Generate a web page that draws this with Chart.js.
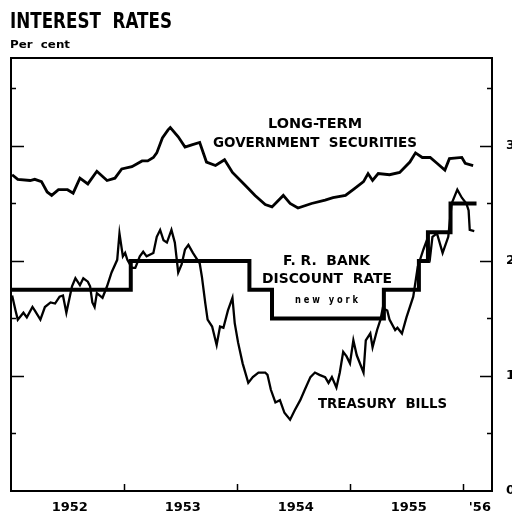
<!DOCTYPE html>
<html>
<head>
<meta charset="utf-8">
<script src="https://cdn.jsdelivr.net/npm/chart.js@4.4.1/dist/chart.umd.min.js"></script>
<style>
  html, body { margin: 0; padding: 0; background: #fff; }
  #wrap { width: 512px; height: 515px; }
</style>
</head>
<body>
<div id="wrap"><canvas id="rates" width="512" height="515"></canvas></div>
<script>
// --- data (decimal years, per cent) ---
const longTermDates = [1952.01, 1952.06, 1952.17, 1952.21, 1952.27, 1952.32, 1952.36, 1952.42, 1952.50, 1952.55,
  1952.61, 1952.68, 1952.76, 1952.85, 1952.92, 1952.98, 1953.07, 1953.16, 1953.21, 1953.26,
  1953.29, 1953.34, 1953.39, 1953.41, 1953.48, 1953.54, 1953.60, 1953.67, 1953.73, 1953.81,
  1953.89, 1953.96, 1954.07, 1954.16, 1954.25, 1954.31, 1954.41, 1954.47, 1954.54, 1954.66,
  1954.78, 1954.85, 1954.96, 1955.04, 1955.12, 1955.16, 1955.20, 1955.25, 1955.35, 1955.44,
  1955.53, 1955.58, 1955.64, 1955.71, 1955.77, 1955.84, 1955.88, 1955.99, 1956.02, 1956.09];
const longTermRates = [2.75, 2.71, 2.70, 2.71, 2.69, 2.60, 2.57, 2.62, 2.62, 2.59,
  2.72, 2.67, 2.78, 2.70, 2.72, 2.80, 2.82, 2.87, 2.87, 2.90,
  2.94, 3.07, 3.14, 3.16, 3.08, 2.99, 3.01, 3.03, 2.86, 2.83,
  2.88, 2.77, 2.66, 2.57, 2.49, 2.47, 2.57, 2.50, 2.46, 2.50,
  2.53, 2.55, 2.57, 2.63, 2.69, 2.76, 2.70, 2.76, 2.75, 2.77,
  2.86, 2.94, 2.90, 2.90, 2.85, 2.79, 2.89, 2.90, 2.85, 2.83];

const billDates = [1952.01, 1952.04, 1952.06, 1952.11, 1952.14, 1952.19, 1952.21, 1952.26, 1952.30, 1952.35,
  1952.39, 1952.43, 1952.46, 1952.49, 1952.54, 1952.57, 1952.61, 1952.64, 1952.68, 1952.70,
  1952.72, 1952.74, 1952.76, 1952.81, 1952.85, 1952.89, 1952.94, 1952.96, 1952.99, 1953.01,
  1953.03, 1953.07, 1953.10, 1953.14, 1953.17, 1953.20, 1953.26, 1953.29, 1953.32, 1953.35,
  1953.38, 1953.42, 1953.45, 1953.48, 1953.51, 1953.54, 1953.57, 1953.61, 1953.65, 1953.67,
  1953.69, 1953.72, 1953.74, 1953.78, 1953.82, 1953.85, 1953.88, 1953.92, 1953.96, 1953.98,
  1954.01, 1954.05, 1954.10, 1954.14, 1954.19, 1954.25, 1954.27, 1954.30, 1954.34, 1954.38,
  1954.42, 1954.47, 1954.51, 1954.56, 1954.60, 1954.65, 1954.69, 1954.73, 1954.78, 1954.81,
  1954.84, 1954.88, 1954.91, 1954.94, 1954.97, 1955.00, 1955.03, 1955.06, 1955.12, 1955.14,
  1955.18, 1955.20, 1955.24, 1955.27, 1955.29, 1955.33, 1955.35, 1955.40, 1955.42, 1955.46,
  1955.50, 1955.56, 1955.60, 1955.65, 1955.68, 1955.71, 1955.73, 1955.77, 1955.82, 1955.87,
  1955.90, 1955.95, 1955.99, 1956.03, 1956.05, 1956.06, 1956.10];
const billRates = [1.70, 1.57, 1.49, 1.55, 1.51, 1.60, 1.57, 1.49, 1.60, 1.64,
  1.63, 1.69, 1.70, 1.55, 1.78, 1.85, 1.79, 1.85, 1.82, 1.78,
  1.64, 1.60, 1.72, 1.68, 1.78, 1.90, 2.01, 2.24, 2.04, 2.07,
  2.01, 1.94, 1.94, 2.04, 2.08, 2.04, 2.07, 2.21, 2.27, 2.18,
  2.16, 2.27, 2.16, 1.90, 1.97, 2.10, 2.14, 2.07, 2.01, 1.98,
  1.86, 1.63, 1.49, 1.43, 1.27, 1.43, 1.42, 1.57, 1.68, 1.46,
  1.29, 1.11, 0.94, 0.99, 1.03, 1.03, 1.01, 0.88, 0.77, 0.79,
  0.68, 0.62, 0.70, 0.79, 0.88, 0.99, 1.03, 1.01, 0.99, 0.94,
  0.99, 0.90, 1.03, 1.21, 1.17, 1.11, 1.31, 1.18, 1.03, 1.31,
  1.37, 1.25, 1.40, 1.49, 1.59, 1.57, 1.49, 1.40, 1.42, 1.37,
  1.51, 1.69, 1.95, 2.10, 2.18, 2.04, 2.21, 2.24, 2.07, 2.21,
  2.50, 2.62, 2.55, 2.50, 2.44, 2.27, 2.26];

// F.R. Bank of New York discount rate: date of each change and the new rate
const discountDates = [1952.00, 1953.06, 1954.11, 1954.31, 1955.30, 1955.61, 1955.69, 1955.89, 1956.12];
const discountRates = [1.75, 2.00, 1.75, 1.50, 1.75, 2.00, 2.25, 2.50, 2.50];

const yearLabels = ['1952', '1953', '1954', '1955', "'56"];
const yearLabelAt = [1952.52, 1953.52, 1954.52, 1955.52, 1956.15];
const yearBreaks = [1953, 1954, 1955, 1956];
const rateTicks = [0, 1, 2, 3];
const rateMinorTicks = [0.5, 1.5, 2.5, 3.5];

const X_MIN = 1952, X_MAX = 1956.257, Y_MAX = 3.765;
const FONT = '"DejaVu Sans", "Open Sans", sans-serif';

function toPoints(xs, ys) {
  return xs.map((x, i) => ({ x: x, y: ys[i] }));
}

// draw text squeezed/stretched to a given width, left edge + baseline
function fitText(ctx, text, left, baseline, width, size, weight) {
  ctx.save();
  ctx.font = (weight || 'bold') + ' ' + size + 'px ' + FONT;
  const w = ctx.measureText(text).width;
  ctx.translate(left, baseline);
  ctx.scale(width / w, 1);
  ctx.textAlign = 'left';
  ctx.textBaseline = 'alphabetic';
  ctx.fillStyle = '#000';
  ctx.fillText(text, 0, 0);
  ctx.restore();
}

const framePlugin = {
  id: 'frame',
  afterDatasetsDraw(chart) {
    const ctx = chart.ctx;
    const a = chart.chartArea;
    const xs = chart.scales.x, ys = chart.scales.y;
    ctx.save();
    ctx.strokeStyle = '#000';
    ctx.lineWidth = 2;
    ctx.strokeRect(a.left, a.top, a.right - a.left, a.bottom - a.top);

    ctx.lineWidth = 1.5;
    ctx.beginPath();
    rateTicks.forEach(v => {
      if (v === 0) return;
      const y = Math.round(ys.getPixelForValue(v)) + 0.5;
      ctx.moveTo(a.left, y); ctx.lineTo(a.left + 13, y);
      ctx.moveTo(a.right, y); ctx.lineTo(a.right - 12, y);
    });
    rateMinorTicks.forEach(v => {
      const y = Math.round(ys.getPixelForValue(v)) + 0.5;
      ctx.moveTo(a.left, y); ctx.lineTo(a.left + 5, y);
      ctx.moveTo(a.right, y); ctx.lineTo(a.right - 5, y);
    });
    yearBreaks.forEach(v => {
      const x = Math.round(xs.getPixelForValue(v)) + 0.5;
      ctx.moveTo(x, a.bottom); ctx.lineTo(x, a.bottom - 7);
    });
    ctx.stroke();
    ctx.restore();
  },
  afterDraw(chart) {
    const ctx = chart.ctx;
    // heading
    fitText(ctx, 'INTEREST  RATES', 10, 28, 162, 21);
    fitText(ctx, 'Per  cent', 10, 48, 60, 11);
    // series labels
    fitText(ctx, 'LONG-TERM', 268, 128, 94, 14);
    fitText(ctx, 'GOVERNMENT  SECURITIES', 213, 147, 204, 14);
    fitText(ctx, 'F. R.  BANK', 283, 265, 87, 14);
    fitText(ctx, 'DISCOUNT  RATE', 262, 283, 130, 14);
    fitText(ctx, 'n e w   y o r k', 295, 303, 63, 10);
    fitText(ctx, 'TREASURY  BILLS', 318, 408, 129, 14);
  }
};

new Chart(document.getElementById('rates'), {
  type: 'line',
  data: {
    datasets: [
      {
        label: 'Long-term government securities',
        data: toPoints(longTermDates, longTermRates),
        borderColor: '#000', borderWidth: 2.8, pointRadius: 0, tension: 0, fill: false
      },
      {
        label: 'Treasury bills',
        data: toPoints(billDates, billRates),
        borderColor: '#000', borderWidth: 2.3, pointRadius: 0, tension: 0, fill: false
      },
      {
        label: 'F.R. Bank discount rate',
        data: toPoints(discountDates, discountRates),
        borderColor: '#000', borderWidth: 4, pointRadius: 0, stepped: 'before', fill: false,
        borderCapStyle: 'butt', borderJoinStyle: 'miter'
      }
    ]
  },
  options: {
    responsive: false,
    animation: false,
    devicePixelRatio: 1,
    layout: { padding: { top: 58, left: 11, right: 0, bottom: 0 } },
    plugins: { legend: { display: false }, tooltip: { enabled: false }, title: { display: false } },
    scales: {
      x: {
        type: 'linear', min: X_MIN, max: X_MAX,
        grid: { display: false, drawTicks: false },
        border: { display: false },
        afterBuildTicks: s => { s.ticks = yearLabelAt.map(v => ({ value: v })); },
        afterFit: s => { s.height = 24; },
        ticks: {
          autoSkip: false, maxRotation: 0, padding: 9, color: '#000',
          font: { family: FONT, size: 13, weight: 'bold' },
          callback: (v, i) => yearLabels[i]
        }
      },
      y: {
        position: 'right', min: 0, max: Y_MAX,
        grid: { display: false, drawTicks: false },
        border: { display: false },
        afterBuildTicks: s => { s.ticks = rateTicks.map(v => ({ value: v })); },
        afterFit: s => { s.width = 20; },
        ticks: {
          padding: 14, color: '#000',
          font: { family: FONT, size: 13, weight: 'bold' },
          callback: v => String(v)
        }
      }
    }
  },
  plugins: [framePlugin]
});
</script>
</body>
</html>
